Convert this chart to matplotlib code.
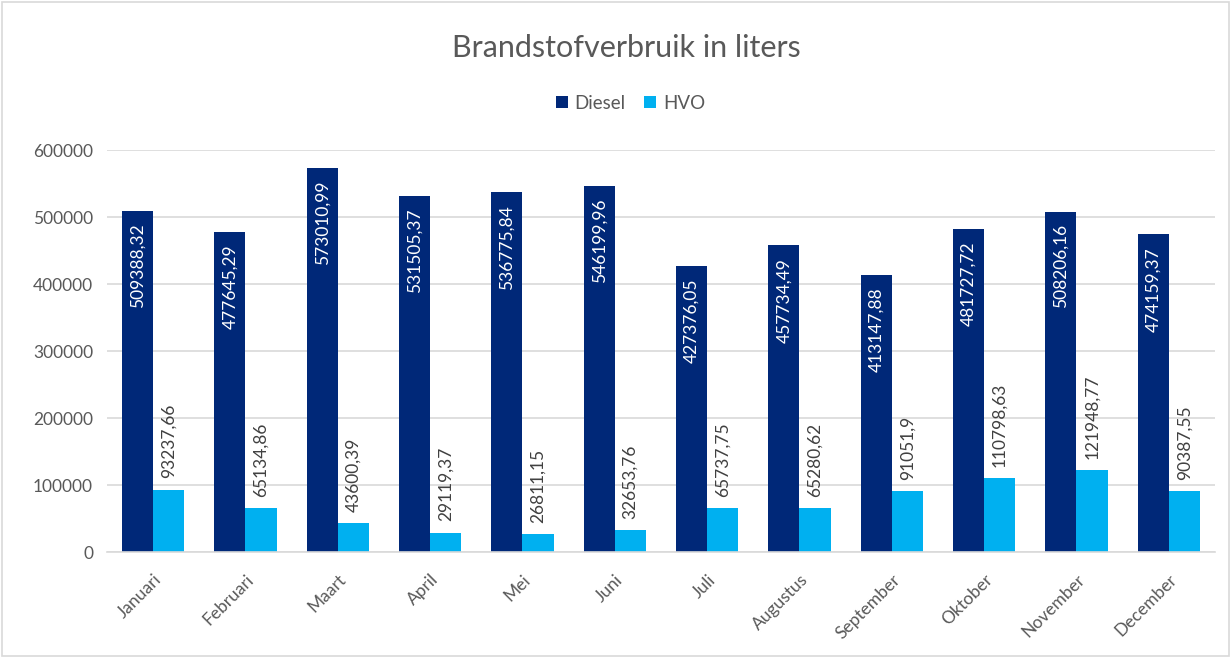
import matplotlib
matplotlib.use("Agg")
import matplotlib.pyplot as plt
import numpy as np
from matplotlib.patches import Rectangle

months = ["Januari", "Februari", "Maart", "April", "Mei", "Juni", "Juli",
          "Augustus", "September", "Oktober", "November", "December"]
diesel = [509388.32, 477645.29, 573010.99, 531505.37, 536775.84, 546199.96,
          427376.05, 457734.49, 413147.88, 481727.72, 508206.16, 474159.37]
hvo = [93237.66, 65134.86, 43600.39, 29119.37, 26811.15, 32653.76,
       65737.75, 65280.62, 91051.9, 110798.63, 121948.77, 90387.55]
yticks = [0, 100000, 200000, 300000, 400000, 500000, 600000]

DIESEL_C = "#002878"
HVO_C = "#00b0f0"
TEXT_C = "#595959"
GRID_C = "#d9d9d9"

plt.rcParams["font.family"] = ["Lato", "DejaVu Sans"]


def fmt(v):
    # Dutch decimal comma, trailing zeros dropped like Excel
    s = f"{v:.2f}".rstrip("0").rstrip(".")
    return s.replace(".", ",")


fig = plt.figure(figsize=(12.31, 6.58), dpi=100)
ax = fig.add_axes([0.0869, 0.161, 0.9001, 0.611])

x = np.arange(len(months))
w = 0.336
b1 = ax.bar(x - w / 2, diesel, w, color=DIESEL_C, label="Diesel", zorder=2)
b2 = ax.bar(x + w / 2, hvo, w, color=HVO_C, label="HVO", zorder=2)

for rect, v in zip(b1, diesel):
    ax.annotate(fmt(v), (rect.get_x() + rect.get_width() / 2, v),
                xytext=(0, -9), textcoords="offset points",
                rotation=90, ha="center", va="top", color="white", fontsize=12.5)
for rect, v in zip(b2, hvo):
    ax.annotate(fmt(v), (rect.get_x() + rect.get_width() / 2, v),
                xytext=(0, 8), textcoords="offset points",
                rotation=90, ha="center", va="bottom", color="#404040", fontsize=12.5)

ax.set_xlim(-0.5, len(months) - 0.5)
ax.set_ylim(0, 600000)
ax.set_yticks(yticks)
ax.set_yticklabels([str(t) for t in yticks], color=TEXT_C, fontsize=12.5)
ax.set_xticks(x)
ax.set_xticklabels(months, rotation=45, ha="right", rotation_mode="anchor",
                   color=TEXT_C, fontsize=12.5)
ax.tick_params(axis="both", length=0, pad=10)
ax.tick_params(axis="x", pad=14)

ax.grid(axis="y", color=GRID_C, linewidth=1.2, zorder=0)
for side in ["top", "right", "left"]:
    ax.spines[side].set_visible(False)
ax.spines["bottom"].set_color(GRID_C)
ax.spines["bottom"].set_linewidth(1.2)

fig.text(0.509, 0.927, "Brandstofverbruik in liters", ha="center", va="center",
         fontsize=22, color=TEXT_C)
fig.legend(loc="center", bbox_to_anchor=(0.512, 0.843), ncol=2, frameon=False,
           fontsize=13.5, handlelength=0.65, handleheight=0.65, handletextpad=0.35,
           columnspacing=1.0, labelcolor=TEXT_C)

fig.patches.append(Rectangle((0.002, 0.003), 0.996, 0.994, transform=fig.transFigure,
                             fill=False, edgecolor=GRID_C, linewidth=1.2))

fig.savefig("out.png", dpi=100)
